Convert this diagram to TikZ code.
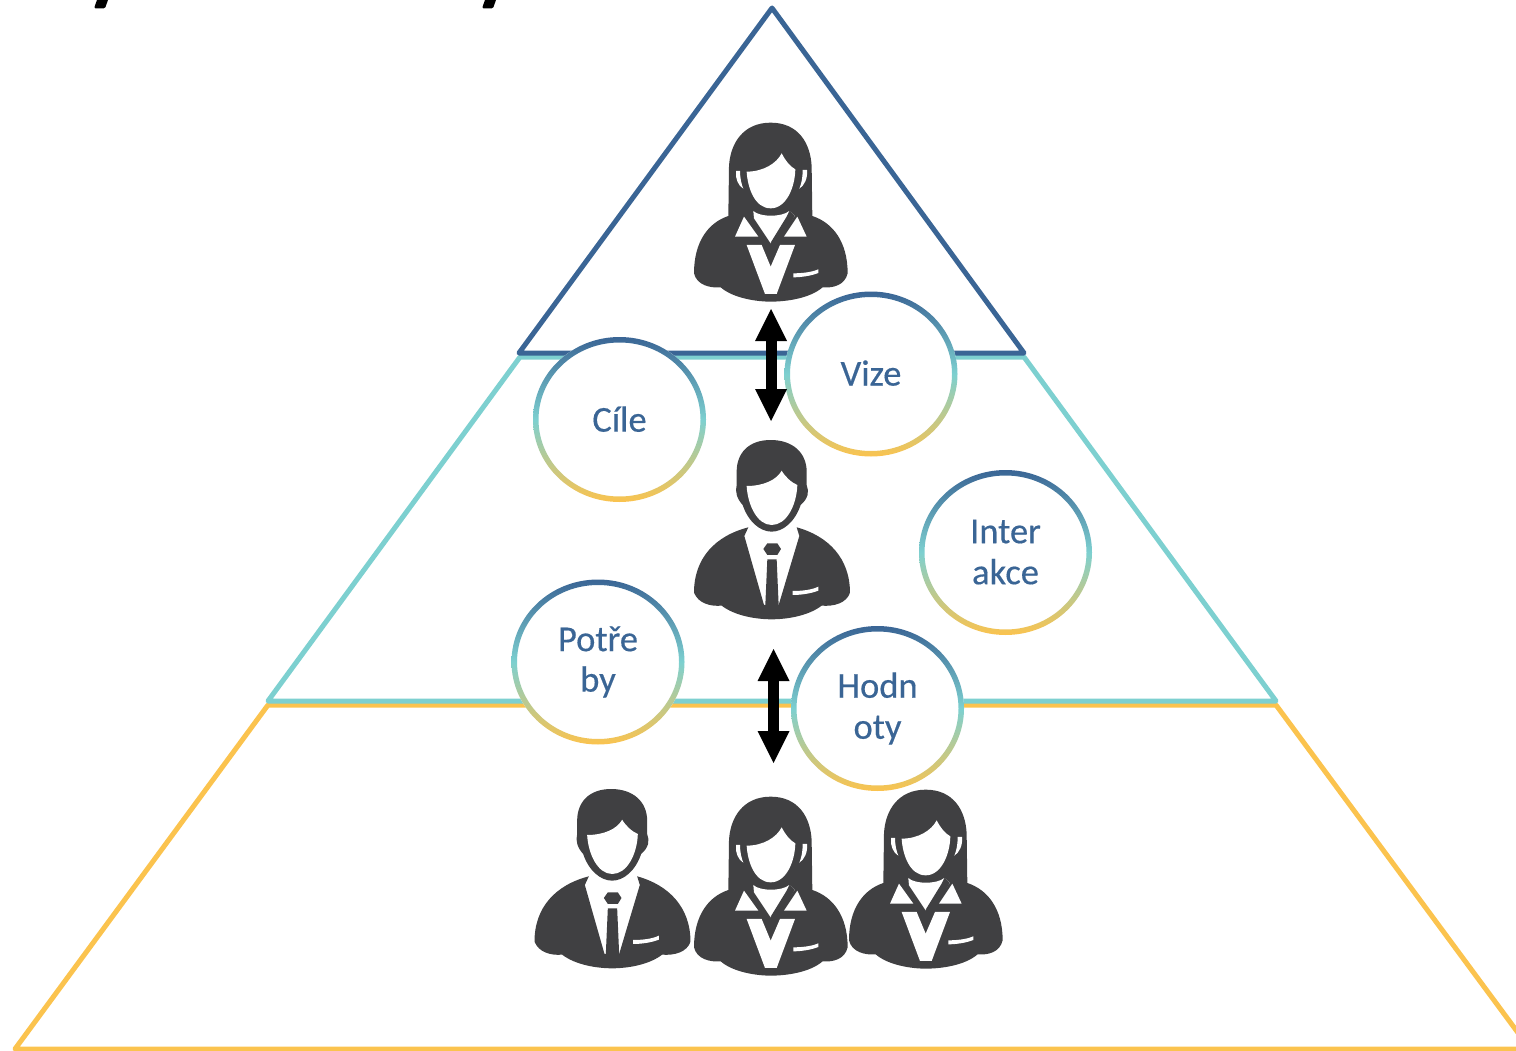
\documentclass[tikz,border=0pt]{standalone}
\usepackage{fontspec}
\setmainfont{Carlito}
\newfontfamily\ringfont[FakeBold=0.4]{Carlito}
\usetikzlibrary{arrows.meta,shapes.geometric}
\definecolor{cblue}{HTML}{3A6595}
\definecolor{cteal}{HTML}{7DD0D0}
\definecolor{cyell}{HTML}{FBC34E}
\definecolor{cicon}{HTML}{404042}
\tikzset{
  tri/.style={line width=5pt,line join=round,line cap=round},
  ring/.style={ellipse,fill=white,minimum width=173pt,minimum height=165pt,inner sep=0pt,
    text=cblue,font=\ringfont\fontsize{36.5}{41}\selectfont,align=center},
  dbl/.style={line width=11pt,{Triangle[length=32pt,width=32pt,line width=0pt]}-{Triangle[length=32pt,width=32pt,line width=0pt]},black},
  ico/.style={fill=cicon},
  hole/.style={fill=white}
}
\newcommand\ringshade[1]{%
  \shade[even odd rule,top color=cblue,bottom color=cyell,middle color=cteal]
    (#1) ellipse [x radius=86.5pt,y radius=82.5pt]
    (#1) ellipse [x radius=81pt,y radius=77pt];}
\newcommand\womanicon[2]{%
 \begin{scope}[shift={(#1,#2)},x=.3333pt,y=-.3333pt]
  \fill[ico] (272,38) .. controls (190,38) and (150,100) .. (147,170) -- (145,318)
    .. controls (85,338) and (42,395) .. (42,490) .. controls (50,525) and (90,535) .. (122,532)
    .. controls (160,565) and (230,575) .. (272,575) .. controls (320,575) and (390,565) .. (428,532)
    .. controls (460,535) and (495,525) .. (503,490) .. controls (503,395) and (458,338) .. (397,318)
    -- (395,170) .. controls (392,100) and (355,38) .. (272,38) -- cycle;
  \fill[hole] (200,185) .. controls (250,185) and (290,160) .. (305,130)
    .. controls (315,150) and (330,170) .. (346,178) .. controls (345,230) and (320,295) .. (272,295)
    .. controls (225,295) and (203,235) .. (200,185) -- cycle;
  \fill[hole] (220,303) .. controls (240,322) and (305,322) .. (328,303) -- (345,318) -- (272,400) -- (222,325) -- cycle;
  \fill[ico] (345,318) -- (328,303) -- (320,320) -- (272,398) -- (285,400) -- cycle;
  \fill[hole] (192,320) -- (235,380) -- (165,380) -- cycle;
  \fill[hole] (352,320) -- (380,380) -- (312,380) -- cycle;
  \fill[hole] (200,405) -- (245,405) -- (272,470) -- (300,405) -- (345,405) -- (290,552) -- (255,552) -- cycle;
  \fill[hole] (340,490) .. controls (365,490) and (395,487) .. (415,478) -- (415,489) .. controls (395,497) and (365,502) .. (340,502) -- cycle;
  \fill[hole] (168,183) -- (180,183) .. controls (180,205) and (185,225) .. (190,236) .. controls (175,228) and (165,205) .. (168,183) -- cycle;
  \fill[hole] (381,180) -- (368,180) .. controls (368,205) and (364,222) .. (358,236) .. controls (372,228) and (384,205) .. (381,180) -- cycle;
 \end{scope}}
\newcommand\manicon[2]{%
 \begin{scope}[shift={(#1,#2)},x=.3333pt,y=-.3333pt]
  \fill[ico] (205,292) .. controls (105,318) and (42,385) .. (42,488) .. controls (55,520) and (90,530) .. (125,527)
    .. controls (165,558) and (230,568) .. (275,568) .. controls (320,568) and (385,558) .. (425,527)
    .. controls (460,530) and (500,520) .. (510,488) .. controls (510,385) and (445,318) .. (350,292)
    -- (358,318) -- (296,525) -- (252,525) -- (193,318) -- cycle;
  \fill[ico] (272,30) .. controls (205,30) and (170,70) .. (170,125) -- (170,165) .. controls (165,185) and (170,205) .. (188,225)
    .. controls (205,275) and (240,305) .. (275,305) .. controls (310,305) and (345,275) .. (362,225)
    .. controls (385,205) and (388,185) .. (380,165) -- (380,125) .. controls (380,70) and (340,30) .. (272,30) -- cycle;
  \fill[hole] (200,168) .. controls (250,168) and (290,150) .. (305,122)
    .. controls (315,140) and (335,158) .. (352,165) .. controls (350,225) and (320,285) .. (275,285)
    .. controls (232,285) and (203,225) .. (200,168) -- cycle;
  \fill[hole] (338,483) .. controls (365,483) and (395,480) .. (415,470) -- (415,482) .. controls (395,490) and (365,495) .. (338,495) -- cycle;
  \fill[ico] (262,340) -- (292,340) -- (303,357) -- (292,375) -- (262,375) -- (250,357) -- cycle;
  \fill[ico] (262,388) -- (290,388) -- (296,525) -- (275,535) -- (256,525) -- cycle;
 \end{scope}}
\begin{document}
\begin{tikzpicture}[x=1pt,y=-1pt]
\useasboundingbox (0,0) rectangle (1516,1051);
\clip (0,0) rectangle (1516,1051);
% clipped title fragments
\fill[black,rounded corners=1.5pt] (98,-3) -- (109,-3) -- (105,8.5) -- (94,8.5) -- cycle;
\fill[black,rounded corners=1.5pt] (486,-3) -- (497,-3) -- (493,8.5) -- (482,8.5) -- cycle;
% pyramid
\coordinate (y1) at (268,705); \coordinate (y2) at (15,1049); \coordinate (y3) at (1530,1049); \coordinate (y4) at (1276,705);
\draw[tri,cyell] (y1) -- (y2) -- (y3) -- (y4) -- cycle;
\coordinate (t1) at (520,357); \coordinate (t2) at (268,701); \coordinate (t3) at (1276,701); \coordinate (t4) at (1024,357);
\draw[tri,cteal] (t1) -- (t2) -- (t3) -- (t4) -- cycle;
\coordinate (b1) at (772,8); \coordinate (b2) at (519,353); \coordinate (b3) at (1024,353);
\draw[tri,cblue] (b1) -- (b2) -- (b3) -- cycle;
% circles
\node[ring] (cile) at (619.5,419.5) {\raisebox{1pt}{Cíle}}; \ringshade{cile}
\node[ring] (vize) at (871,374) {\raisebox{2pt}{Vize}}; \ringshade{vize}
\node[ring] (inter) at (1005.5,552.5) {\raisebox{1pt}{Inter}\\\raisebox{1pt}{akce}}; \ringshade{inter}
\node[ring] (potre) at (598,662) {\raisebox{-1.5pt}{Potře}\\\raisebox{-1pt}{by}}; \ringshade{potre}
\node[ring] (hodn) at (877.5,708.5) {Hodn\\oty}; \ringshade{hodn}
% people
\womanicon{680}{110}
\manicon{680}{430}
\manicon{520.5}{779}
\womanicon{680}{784}
\womanicon{835}{777}
% arrows
\coordinate (a1) at (771,309); \coordinate (a2) at (771,421);
\draw[dbl] (a1) -- (a2);
\coordinate (a3) at (773.5,649); \coordinate (a4) at (773.5,763);
\draw[dbl] (a3) -- (a4);
\end{tikzpicture}
\end{document}
